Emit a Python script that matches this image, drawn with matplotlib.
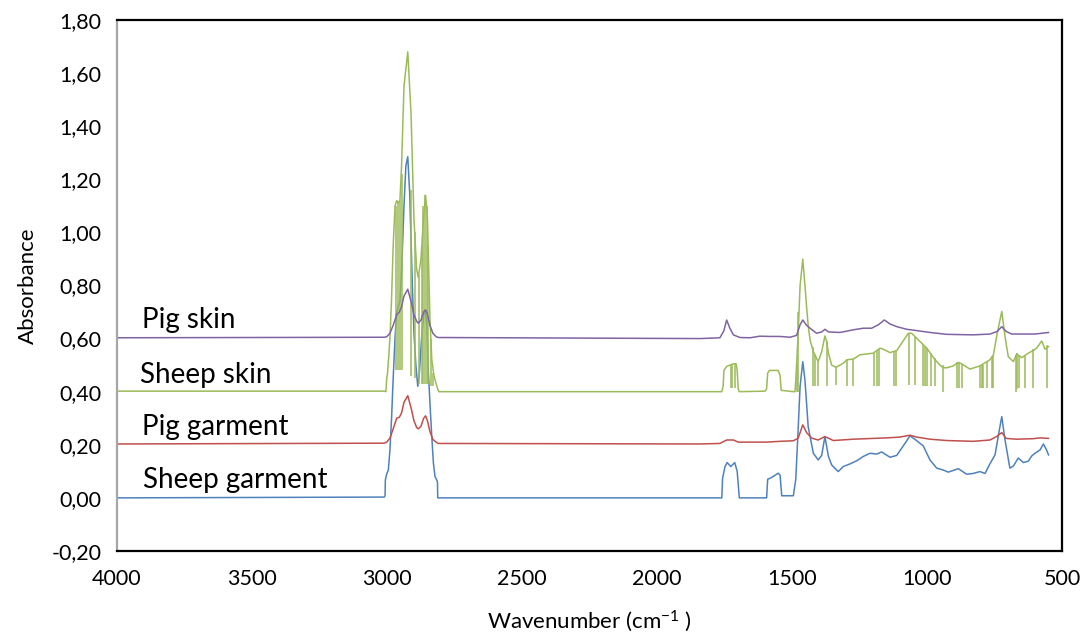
import matplotlib
matplotlib.use("Agg")
import matplotlib.pyplot as plt
from matplotlib.ticker import FixedLocator, FuncFormatter

plt.rcParams['font.family'] = ['Lato', 'DejaVu Sans']
plt.rcParams['mathtext.default'] = 'regular'

# ---- data (wavenumber cm-1, absorbance) ----
pig_skin_wn = [4000, 3010, 3001, 2989, 2977, 2964, 2954, 2946, 2937, 2923, 2911, 2900, 2890,
               2884, 2874, 2864, 2857, 2850, 2841, 2830, 2818, 2810, 1841, 1767, 1752, 1742,
               1730, 1717, 1693, 1656, 1619, 1581, 1544, 1507, 1483, 1470, 1460, 1446, 1433,
               1409, 1390, 1378, 1365, 1322, 1273, 1236, 1205, 1180, 1158, 1137, 1112, 1075,
               1038, 989, 927, 829, 767, 740, 723, 707, 686, 600, 550]
pig_skin_y = [0.603, 0.605, 0.607, 0.62, 0.65, 0.69, 0.70, 0.72, 0.76, 0.786, 0.74, 0.69, 0.665,
              0.658, 0.67, 0.70, 0.708, 0.69, 0.65, 0.62, 0.607, 0.604, 0.600, 0.603, 0.63, 0.670,
              0.639, 0.614, 0.604, 0.603, 0.609, 0.608, 0.608, 0.605, 0.612, 0.652, 0.670, 0.650, 0.639,
              0.620, 0.625, 0.635, 0.625, 0.623, 0.633, 0.639, 0.639, 0.652, 0.670, 0.655, 0.645, 0.635,
              0.630, 0.623, 0.616, 0.614, 0.617, 0.627, 0.645, 0.627, 0.617, 0.617, 0.623]

sheep_skin_wn = [4000, 3010, 3004, 3001, 2998, 2995, 2989, 2983, 2977, 2970, 2964, 2958, 2952,
                 2946, 2937, 2923, 2911, 2900, 2890, 2884, 2874, 2865, 2857, 2850, 2841, 2834,
                 2826, 2818, 2812, 2808, 1841, 1760, 1755, 1752, 1742, 1730, 1717, 1707, 1703,
                 1699, 1695, 1600, 1594, 1590, 1584, 1551, 1544, 1540, 1495, 1489, 1486, 1483,
                 1477, 1470, 1460, 1452, 1446, 1440, 1433, 1421, 1415, 1403, 1390, 1378, 1372,
                 1365, 1353, 1337, 1310, 1297, 1273, 1248, 1199, 1174, 1162, 1137, 1112, 1069,
                 1057, 1038, 1001, 970, 952, 940, 927, 903, 884, 872, 841, 804, 767, 754, 740,
                 723, 711, 699, 680, 668, 649, 625, 606, 594, 575, 563, 550]
sheep_skin_y = [0.402, 0.402, 0.40, 0.45, 0.47, 0.51, 0.60, 0.75, 0.95, 1.10, 1.12, 1.11, 1.12,
                1.25, 1.55, 1.68, 1.45, 1.05, 0.86, 0.83, 0.90, 1.05, 1.14, 1.05, 0.68, 0.52,
                0.46, 0.43, 0.41, 0.40, 0.400, 0.400, 0.42, 0.48, 0.495, 0.50, 0.505, 0.505, 0.48,
                0.41, 0.40, 0.402, 0.41, 0.47, 0.48, 0.48, 0.46, 0.405, 0.40, 0.40, 0.44, 0.50,
                0.62, 0.80, 0.899, 0.80, 0.72, 0.65, 0.595, 0.55, 0.539, 0.513, 0.55, 0.610, 0.59,
                0.545, 0.50, 0.492, 0.507, 0.52, 0.523, 0.539, 0.545, 0.564, 0.560, 0.547, 0.555, 0.620,
                0.620, 0.601, 0.564, 0.52, 0.50, 0.49, 0.49, 0.497, 0.51, 0.505, 0.485, 0.497, 0.52, 0.539, 0.620,
                0.702, 0.608, 0.532, 0.513, 0.542, 0.528, 0.545, 0.555, 0.564, 0.591, 0.56, 0.570]

# spikes in the sheep skin trace: position, top, bottom
sheep_skin_drop_wn = [2968, 2961, 2953, 2946, 2910, 2897, 2880, 2872, 2866, 2860, 2853,
                      2847, 2838, 2828, 1727, 1721, 1711, 1483, 1477, 1421, 1415, 1403, 1372,
                      1337, 1297, 1273, 1195, 1186, 1179, 1122, 1115, 1068, 1044, 1014, 1007,
                      1001, 986, 970, 942, 888, 881, 872, 804, 797, 791, 779, 760, 754, 670,
                      665, 658, 637, 609, 555]
sheep_skin_drop_top = [1.10, 1.12, 1.12, 1.22, 1.16, 1.00, 0.84, 0.95, 1.10, 1.14, 1.10,
                       0.95, 0.60, 0.47, 0.50, 0.505, 0.505, 0.50, 0.70, 0.57, 0.54, 0.51, 0.59,
                       0.495, 0.52, 0.523, 0.545, 0.555, 0.562, 0.55, 0.555, 0.62, 0.605, 0.575, 0.57,
                       0.565, 0.545, 0.525, 0.50, 0.51, 0.51, 0.505, 0.497, 0.50, 0.50, 0.51, 0.53,
                       0.54, 0.54, 0.545, 0.54, 0.535, 0.56, 0.575]
sheep_skin_drop_low = [0.48, 0.48, 0.48, 0.48, 0.46, 0.45, 0.43, 0.43, 0.43, 0.43, 0.43,
                       0.43, 0.42, 0.42, 0.415, 0.415, 0.415, 0.40, 0.40, 0.42, 0.42, 0.42, 0.42,
                       0.426, 0.42, 0.42, 0.42, 0.42, 0.42, 0.42, 0.42, 0.425, 0.425, 0.42, 0.42,
                       0.42, 0.42, 0.42, 0.40, 0.415, 0.415, 0.415, 0.415, 0.415, 0.415, 0.415, 0.415,
                       0.415, 0.40, 0.41, 0.415, 0.415, 0.415, 0.415]

pig_garment_wn = [4000, 3010, 3001, 2989, 2977, 2964, 2954, 2946, 2937, 2923, 2911, 2900, 2890,
                  2884, 2874, 2864, 2857, 2850, 2841, 2830, 2818, 2810, 1841, 1767, 1742, 1717,
                  1699, 1594, 1544, 1495, 1477, 1460, 1446, 1427, 1403, 1378, 1347, 1273, 1149,
                  1100, 1063, 1038, 989, 927, 829, 767, 742, 723, 707, 668, 606, 581, 550]
pig_garment_y = [0.203, 0.206, 0.21, 0.225, 0.26, 0.30, 0.304, 0.32, 0.36, 0.385, 0.34, 0.29, 0.265,
                 0.26, 0.27, 0.30, 0.309, 0.29, 0.25, 0.22, 0.21, 0.205, 0.203, 0.205, 0.218, 0.218,
                 0.21, 0.21, 0.213, 0.215, 0.225, 0.275, 0.246, 0.225, 0.218, 0.231, 0.216, 0.221, 0.226,
                 0.229, 0.236, 0.229, 0.221, 0.216, 0.213, 0.218, 0.231, 0.246, 0.224, 0.221, 0.223, 0.226, 0.224]

sheep_garment_wn = [4000, 3010, 3007, 3006, 3001, 2995, 2989, 2983, 2977, 2970, 2964, 2958, 2952,
                    2946, 2937, 2930, 2923, 2916, 2906, 2900, 2893, 2886, 2880, 2872, 2864, 2859,
                    2852, 2847, 2841, 2834, 2828, 2822, 2816, 2813, 2812, 1841, 1760, 1757, 1748,
                    1740, 1727, 1712, 1703, 1695, 1594, 1590, 1575, 1551, 1544, 1538, 1495, 1486,
                    1479, 1470, 1460, 1452, 1440, 1421, 1403, 1390, 1378, 1365, 1353, 1329, 1310,
                    1285, 1260, 1236, 1211, 1186, 1168, 1137, 1112, 1081, 1063, 1044, 1014, 989,
                    964, 940, 921, 884, 853, 829, 804, 785, 767, 748, 732, 723, 711, 693, 680, 662,
                    643, 625, 612, 600, 581, 569, 557, 550]
sheep_garment_y = [0.0, 0.003, 0.008, 0.068, 0.09, 0.105, 0.18, 0.30, 0.45, 0.607, 0.70, 0.72, 0.74,
                   0.85, 1.10, 1.25, 1.285, 1.15, 0.80, 0.62, 0.50, 0.42, 0.47, 0.60, 0.69, 0.708,
                   0.65, 0.48, 0.36, 0.23, 0.13, 0.08, 0.068, 0.06, 0.0, 0.0, 0.0, 0.074, 0.118,
                   0.133, 0.118, 0.133, 0.10, 0.0, 0.0, 0.07, 0.077, 0.093, 0.085, 0.008, 0.008, 0.07,
                   0.218, 0.42, 0.513, 0.444, 0.268, 0.168, 0.143, 0.16, 0.231, 0.156, 0.124, 0.099, 0.118,
                   0.128, 0.14, 0.156, 0.168, 0.165, 0.173, 0.153, 0.16, 0.206, 0.234, 0.22, 0.196, 0.143,
                   0.112, 0.105, 0.097, 0.110, 0.089, 0.092, 0.099, 0.092, 0.128, 0.162, 0.256, 0.306, 0.218, 0.112, 0.12, 0.150,
                   0.133, 0.138, 0.158, 0.168, 0.181, 0.203, 0.18, 0.162]

labels = ["Pig skin", "Sheep skin", "Pig garment", "Sheep garment"]
label_wn = [3909, 3914, 3909, 3902]
label_y = [0.639, 0.434, 0.236, 0.037]

yticks = [-0.2, 0.0, 0.2, 0.4, 0.6, 0.8, 1.0, 1.2, 1.4, 1.6, 1.8]
xticks = [4000, 3500, 3000, 2500, 2000, 1500, 1000, 500]

c_blue = '#4F81BD'
c_red = '#C0504D'
c_green = '#9BBB59'
c_purple = '#8064A2'

fig = plt.figure(figsize=(10.83, 6.38), dpi=100)
ax = fig.add_axes([0.108, 0.1364, 0.8726, 0.8323])

ax.plot(sheep_garment_wn, sheep_garment_y, color=c_blue, lw=1.1)
ax.plot(pig_garment_wn, pig_garment_y, color=c_red, lw=1.1)
ax.plot(sheep_skin_wn, sheep_skin_y, color=c_green, lw=1.1)
ax.vlines(sheep_skin_drop_wn, sheep_skin_drop_low, sheep_skin_drop_top, color=c_green, lw=1.1)
ax.plot(pig_skin_wn, pig_skin_y, color=c_purple, lw=1.1)

for t, x, y in zip(labels, label_wn, label_y):
    ax.text(x, y, t, fontsize=20, ha='left', va='baseline')

ax.set_xlim(4000, 500)
ax.set_ylim(-0.2, 1.8)
ax.xaxis.set_major_locator(FixedLocator(xticks))
ax.yaxis.set_major_locator(FixedLocator(yticks))
ax.yaxis.set_major_formatter(FuncFormatter(lambda v, p: f"{v:.2f}".replace('.', ',')))
ax.tick_params(length=0, labelsize=15.5)
ax.tick_params(axis='y', pad=11)
ax.tick_params(axis='x', pad=13)

for s in ['top', 'right', 'bottom']:
    ax.spines[s].set_color('black')
    ax.spines[s].set_linewidth(1.6)
ax.spines['left'].set_color('#A6A6A6')
ax.spines['left'].set_linewidth(1.6)

ax.set_xlabel("Wavenumber (cm$^{-1}$ )", fontsize=16, labelpad=14)
ax.set_ylabel("Absorbance", fontsize=16, labelpad=10)

plt.savefig('out.png', dpi=100)
